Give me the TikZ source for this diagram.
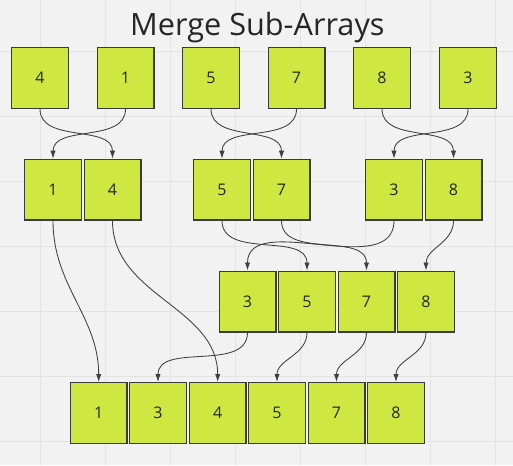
\documentclass[tikz,border=0pt]{standalone}
\usepackage{fontspec}
\setmainfont{Open Sans}
\usetikzlibrary{arrows.meta}

\definecolor{bgc}{HTML}{F2F2F2}
\definecolor{gridc}{HTML}{E3E3E3}
\definecolor{cellfill}{HTML}{CEE741}
\definecolor{cellline}{HTML}{3A3A3A}
\definecolor{linkc}{HTML}{404040}

\begin{document}
\begin{tikzpicture}[x=0.75pt, y=-0.75pt, >={Latex[length=6pt,width=4pt]},
  cell/.style={draw=cellline, fill=cellfill, line width=1.1pt, inner sep=0pt,
    minimum width=42.4pt, minimum height=45.4pt,
    font=\fontsize{12}{14}\selectfont, text=black!85},
  link/.style={->, draw=linkc, line width=0.65pt}]
  % background and grid
  \fill[bgc] (0,0) rectangle (513,465);
  \useasboundingbox (0,0) rectangle (513,465);
  \foreach \gx in {40,105,...,495} \draw[gridc, line width=0.75pt] (\gx,0) -- (\gx,465);
  \foreach \gy in {51,116,...,441} \draw[gridc, line width=0.75pt] (0,\gy) -- (513,\gy);
  % title
  \node[anchor=base, font=\fontsize{23}{27}\selectfont, text=black!85] (title) at (257.4,35) {Merge Sub-Arrays};
  % first row
  \node[cell] (t4) at (40,78) {4};
  \node[cell] (t1) at (125.5,78) {1};
  \node[cell] (t5) at (211,78) {5};
  \node[cell] (t7) at (296.5,78) {7};
  \node[cell] (t8) at (382,78) {8};
  \node[cell] (t3) at (468,78) {3};
  % pairs
  \node[cell] (m1) at (53,189.7) {1};
  \node[cell] (m4) at (112.5,189.7) {4};
  \node[cell] (m5) at (222,189.7) {5};
  \node[cell] (m7) at (281.5,189.7) {7};
  \node[cell] (m3) at (394,189.7) {3};
  \node[cell] (m8) at (453.5,189.7) {8};
  % four
  \node[cell] (q3) at (247.5,301.5) {3};
  \node[cell] (q5) at (307,301.5) {5};
  \node[cell] (q7) at (366.5,301.5) {7};
  \node[cell] (q8) at (426,301.5) {8};
  % result
  \node[cell] (f1) at (98.7,413) {1};
  \node[cell] (f3) at (158,413) {3};
  \node[cell] (f4) at (217.7,413) {4};
  \node[cell] (f5) at (277,413) {5};
  \node[cell] (f7) at (336.5,413) {7};
  \node[cell] (f8) at (396,413) {8};
  % merge links
  \draw[link] (t4.south) to[out=-90,in=90] (m4.north);
  \draw[link] (t1.south) to[out=-90,in=90] (m1.north);
  \draw[link] (t5.south) to[out=-90,in=90] (m7.north);
  \draw[link] (t7.south) to[out=-90,in=90] (m5.north);
  \draw[link] (t8.south) to[out=-90,in=90] (m8.north);
  \draw[link] (t3.south) to[out=-90,in=90] (m3.north);
  \draw[link] (m5.south) to[out=-90,in=90] (q5.north);
  \draw[link] (m7.south) to[out=-90,in=90] (q7.north);
  \draw[link] (m3.south) to[out=-90,in=90] (q3.north);
  \draw[link] (m8.south) to[out=-90,in=90] (q8.north);
  \draw[link] (m1.south) to[out=-90,in=90] (f1.north);
  \draw[link] (m4.south) to[out=-90,in=90] (f4.north);
  \draw[link] (q3.south) to[out=-90,in=90] (f3.north);
  \draw[link] (q5.south) to[out=-90,in=90] (f5.north);
  \draw[link] (q7.south) to[out=-90,in=90] (f7.north);
  \draw[link] (q8.south) to[out=-90,in=90] (f8.north);
\end{tikzpicture}
\end{document}
